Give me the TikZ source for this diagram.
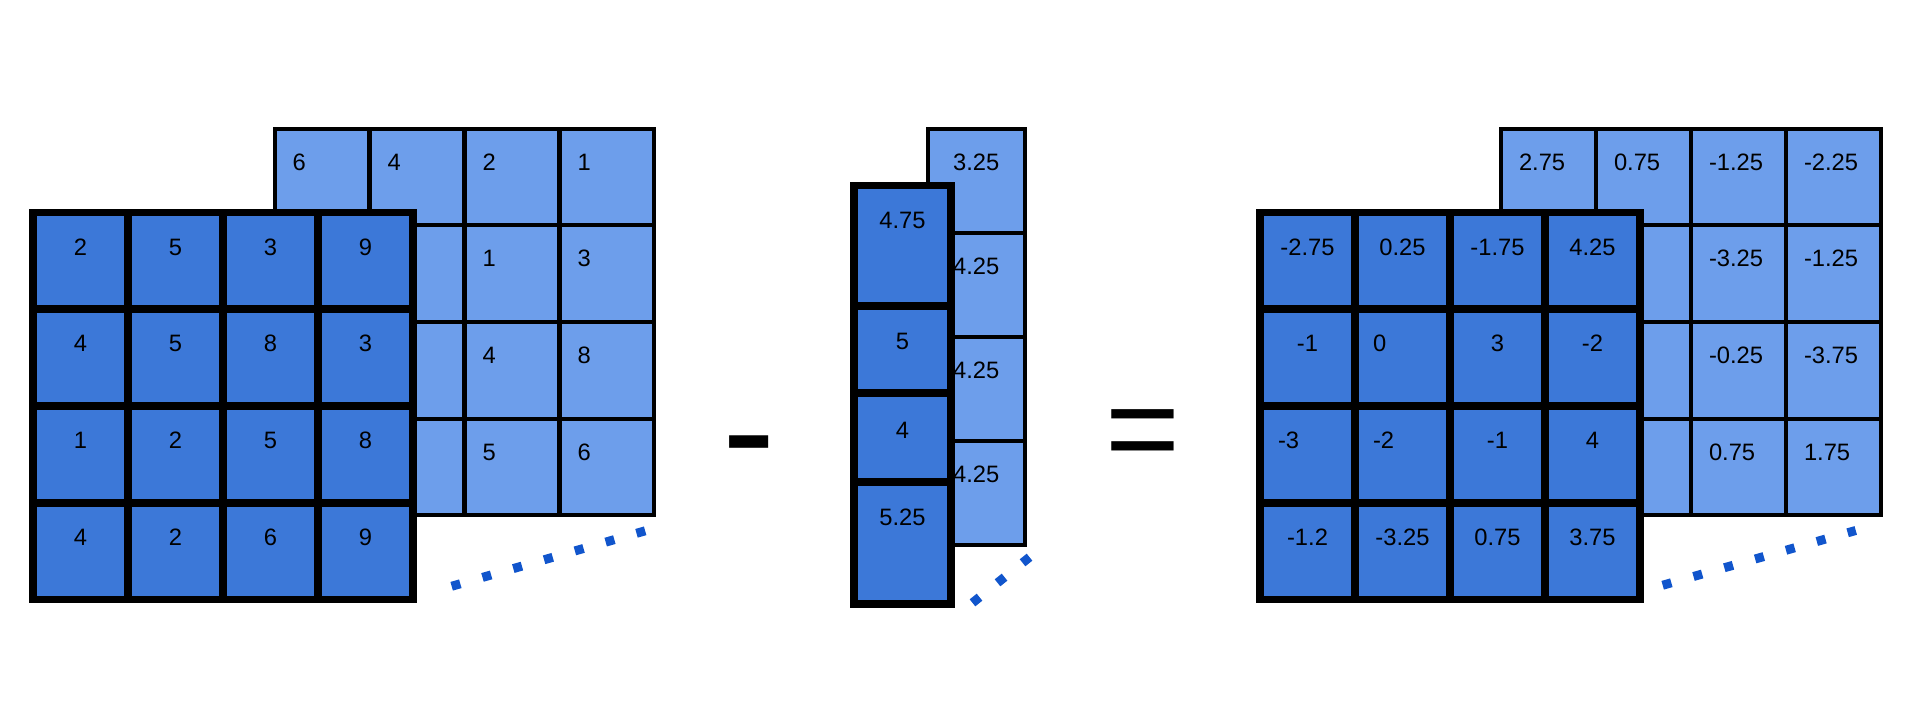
\documentclass[tikz,border=0pt]{standalone}
\usepackage{fontspec}
\setmainfont{Liberation Sans}
\definecolor{frontblue}{HTML}{3C78D8}
\definecolor{backblue}{HTML}{6D9EEB}
\definecolor{dotblue}{HTML}{1155CC}

\begin{document}
\begin{tikzpicture}[x=0.02cm,y=-0.02cm]
\tikzstyle{every node}=[rectangle, inner sep=0pt, outer sep=0pt, font=\fontsize{13.5}{16}\selectfont]
\tikzstyle{back}=[draw, line width=0.08cm, fill=backblue, minimum width=1.9cm, minimum height=1.935cm, text height=0.5cm, text depth=0.775cm]
\tikzstyle{front}=[back, line width=0.15cm, fill=frontblue, text depth=0.735cm]
\tikzstyle{lft}=[text width=1.18cm, align=left]
\tikzstyle{etcdots}=[draw=dotblue, line width=0.18cm, dash pattern=on 0.18cm off 0.461cm]
\useasboundingbox (0,0) rectangle (1920,727);
% left: input, back layer
\draw (322,176.875) node (lb11) [back,lft] {6};
\draw (417,176.875) node (lb12) [back,lft] {4};
\draw (512,176.875) node (lb13) [back,lft] {2};
\draw (607,176.875) node (lb14) [back,lft] {1};
\draw (322,273.625) node (lb21) [back] {};
\draw (417,273.625) node (lb22) [back] {};
\draw (512,273.625) node (lb23) [back,lft] {1};
\draw (607,273.625) node (lb24) [back,lft] {3};
\draw (322,370.375) node (lb31) [back] {};
\draw (417,370.375) node (lb32) [back] {};
\draw (512,370.375) node (lb33) [back,lft] {4};
\draw (607,370.375) node (lb34) [back,lft] {8};
\draw (322,467.125) node (lb41) [back] {};
\draw (417,467.125) node (lb42) [back] {};
\draw (512,467.125) node (lb43) [back,lft] {5};
\draw (607,467.125) node (lb44) [back,lft] {6};
% left: input, front layer
\draw (80.5,260.875) node (lf11) [front] {2};
\draw (175.5,260.875) node (lf12) [front] {5};
\draw (270.5,260.875) node (lf13) [front] {3};
\draw (365.5,260.875) node (lf14) [front] {9};
\draw (80.5,357.625) node (lf21) [front] {4};
\draw (175.5,357.625) node (lf22) [front] {5};
\draw (270.5,357.625) node (lf23) [front] {8};
\draw (365.5,357.625) node (lf24) [front] {3};
\draw (80.5,454.375) node (lf31) [front] {1};
\draw (175.5,454.375) node (lf32) [front] {2};
\draw (270.5,454.375) node (lf33) [front] {5};
\draw (365.5,454.375) node (lf34) [front] {8};
\draw (80.5,551.125) node (lf41) [front] {4};
\draw (175.5,551.125) node (lf42) [front] {2};
\draw (270.5,551.125) node (lf43) [front] {6};
\draw (365.5,551.125) node (lf44) [front] {9};
% middle: means
\draw (976.25,180.55) node (mb1) [back, minimum width=1.93cm, minimum height=2.082cm, text depth=0.902cm] {3.25};
\draw (976.25,284.65) node (mb2) [back, minimum width=1.93cm, minimum height=2.082cm, text depth=0.902cm] {4.25};
\draw (976.25,388.75) node (mb3) [back, minimum width=1.93cm, minimum height=2.082cm, text depth=0.902cm] {4.25};
\draw (976.25,492.85) node (mb4) [back, minimum width=1.93cm, minimum height=2.082cm, text depth=0.902cm] {4.25};
\draw (902.5,245.75) node (mf1) [front, minimum width=1.94cm, minimum height=2.41cm, text depth=1.19cm] {4.75};
\draw (902.5,349.5) node (mf2) [front, minimum width=1.94cm, minimum height=1.74cm, text depth=0.5cm] {5};
\draw (902.5,437.5) node (mf3) [front, minimum width=1.94cm, minimum height=1.78cm, text depth=0.46cm] {4};
\draw (902.5,543) node (mf4) [front, minimum width=1.94cm, minimum height=2.44cm, text depth=1.22cm] {5.25};
% right: result, back layer
\draw (1548.5,176.875) node (rb11) [back,lft] {2.75};
\draw (1643.5,176.875) node (rb12) [back,lft] {0.75};
\draw (1738.5,176.875) node (rb13) [back,lft] {-1.25};
\draw (1833.5,176.875) node (rb14) [back,lft] {-2.25};
\draw (1548.5,273.625) node (rb21) [back] {};
\draw (1643.5,273.625) node (rb22) [back] {};
\draw (1738.5,273.625) node (rb23) [back,lft] {-3.25};
\draw (1833.5,273.625) node (rb24) [back,lft] {-1.25};
\draw (1548.5,370.375) node (rb31) [back] {};
\draw (1643.5,370.375) node (rb32) [back] {};
\draw (1738.5,370.375) node (rb33) [back,lft] {-0.25};
\draw (1833.5,370.375) node (rb34) [back,lft] {-3.75};
\draw (1548.5,467.125) node (rb41) [back] {};
\draw (1643.5,467.125) node (rb42) [back] {};
\draw (1738.5,467.125) node (rb43) [back,lft] {0.75};
\draw (1833.5,467.125) node (rb44) [back,lft] {1.75};
% right: result, front layer
\draw (1307.5,260.875) node (rf11) [front] {-2.75};
\draw (1402.5,260.875) node (rf12) [front] {0.25};
\draw (1497.5,260.875) node (rf13) [front] {-1.75};
\draw (1592.5,260.875) node (rf14) [front] {4.25};
\draw (1307.5,357.625) node (rf21) [front] {-1};
\draw (1402.5,357.625) node (rf22) [front,lft] {0};
\draw (1497.5,357.625) node (rf23) [front] {3};
\draw (1592.5,357.625) node (rf24) [front] {-2};
\draw (1307.5,454.375) node (rf31) [front,lft] {-3};
\draw (1402.5,454.375) node (rf32) [front,lft] {-2};
\draw (1497.5,454.375) node (rf33) [front] {-1};
\draw (1592.5,454.375) node (rf34) [front] {4};
\draw (1307.5,551.125) node (rf41) [front] {-1.2};
\draw (1402.5,551.125) node (rf42) [front] {-3.25};
\draw (1497.5,551.125) node (rf43) [front] {0.75};
\draw (1592.5,551.125) node (rf44) [front] {3.75};
% signs
\draw (722.9,484.1) node (minus) [anchor=base west, font=\fontsize{91}{91}\selectfont] {-};
\draw (1105.2,472.3) node (equals) [anchor=base west, font=\fontsize{73}{73}\selectfont] {=};
% more channels
\coordinate (ldots1) at (451.67,586.24);
\coordinate (ldots2) at (645.33,530.76);
\coordinate (mdots1) at (972.49,602.81);
\coordinate (mdots2) at (1029.51,557.19);
\coordinate (rdots1) at (1662.67,585.23);
\coordinate (rdots2) at (1855.73,530.47);
\draw[etcdots] (ldots1) -- (ldots2);
\draw[etcdots] (mdots1) -- (mdots2);
\draw[etcdots] (rdots1) -- (rdots2);
\end{tikzpicture}
\end{document}
